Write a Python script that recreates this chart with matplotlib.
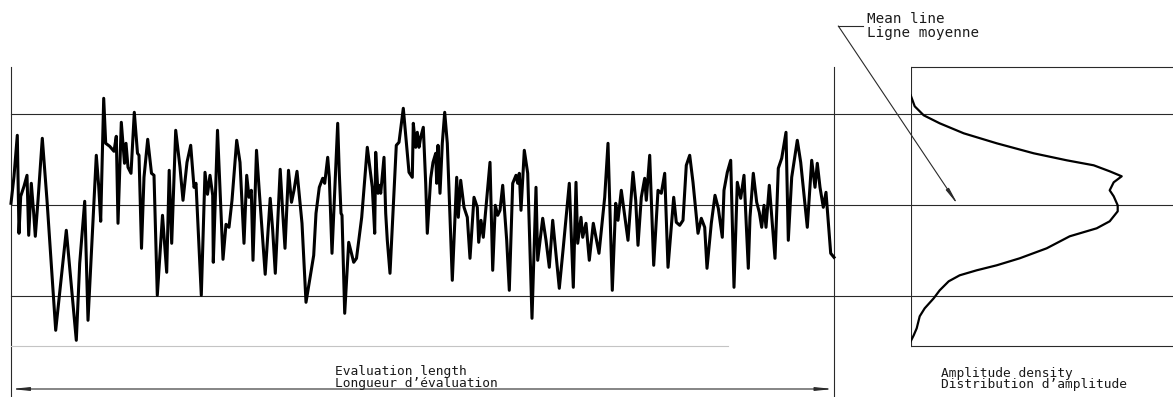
import matplotlib.pyplot as plt

# Surface profile: position along the evaluation length and height about the mean line
position = [
    0, 3, 6.3, 8, 9.7, 13, 16, 17.7, 20.3, 22.7, 24.3, 27, 31.3, 36, 44.7, 55.3,
    65.3, 68.7, 73.7, 77, 85.3, 87.7, 89.7, 92.7, 94.7, 98.7, 103, 105.3, 107, 110.3,
    113.5, 115, 117, 120, 123.3, 126.5, 128, 130.5, 133, 136.7, 140.5, 143, 146.3,
    151.5, 155.7, 158.2, 160.7, 164.7, 169, 172, 176, 179.7, 183, 185, 190.3, 194,
    196.5, 199, 201.7, 202.3, 206.5, 212, 215, 218, 221, 225.7, 229, 233, 235.7, 238,
    240.3, 242, 245.5, 248, 254.2, 259.2, 261.7, 264.3, 269.2, 271.7, 274, 277.5,
    280.5, 283, 286, 291, 295, 302.7, 305, 308.3, 311.7, 313.7, 316.7, 318.3, 321,
    326.7, 328.3, 330, 331, 333.7, 337.7, 342.7, 345.5, 350.7, 356.3, 361.3, 363.7,
    364.7, 367, 368.7, 369.7, 373, 374.7, 376.3, 379, 385.3, 388, 392.3, 398, 401.3,
    402.3, 404.7, 406.3, 408, 409.7, 412.3, 414.7, 416.3, 419.7, 422, 424.7, 425.7,
    427, 429, 431.3, 433.7, 436.3, 441.3, 445.7, 447.3, 449.7, 453, 456.3, 459, 463,
    466.3, 467.7, 470, 472.3, 479, 481.7, 484.3, 486.7, 489, 491.7, 495.7, 498.3,
    501.7, 505, 506.7, 508.3, 510, 513.3, 516.7, 521, 525, 526.7, 531.7, 535, 538.3,
    541.7, 544.3, 548.3, 552.3, 558.3, 562.3, 565, 566.7, 570, 571.7, 575, 578.3,
    582.3, 588, 593.7, 597, 601.3, 604.7, 607, 610.3, 617, 622, 624.7, 627, 630.3,
    633.7, 635.3, 638.7, 642.7, 647, 650.3, 653.7, 657, 662.7, 665.3, 668.7, 672,
    675.3, 678.7, 682, 687, 690.3, 693.7, 696, 700.3, 704, 707.3, 711.3, 713, 716.3,
    719.7, 723, 726.3, 729.7, 733, 737.3, 739, 742.3, 745.7, 748.3, 750.7, 753, 755,
    758.3, 764, 767.3, 770.7, 775, 777.3, 780.7, 786.3, 789.7, 796.3, 800.7, 804,
    806.3, 809, 812.3, 815, 819.7, 823,
]
height = [
    2, 29, 70, -28, 9, 19, 30, -30, 22, -8, -31, 5, 67, 5, -125, -25,
    -135, -58, 4, -115, 50, 19, -16, 107, 62, 59, 54, 69, -18, 83,
    42, 62, 38, 32, 93, 52, 50, -43, 28, 66, 32, 30, -90,
    -10, -67, 35, -38, 75, 38, 5, 43, 60, 18, 22, -90, 33,
    11, 30, 10, -57, 75, -54, -19, -22, 5, 65, 43, -38, 30, 8,
    15, -55, 55, 18, -69, 7, -25, -68, 36, -7, -43, 35,
    3, 15, 34, -18, -97, -50, -8, 18, 27, 22, 48, 28, -48,
    82, 32, -8, -10, -108, -37, -57, -53, -12, 58, 18, -28,
    53, 12, 20, 12, 48, -8, -35, -68, 60, 63, 97, 33, 28,
    82, 58, 73, 58, 68, 78, 22, -28, 27, 43, 52, 22,
    60, 12, 62, 93, 62, -75, 28, -12, 25, -2, -12, -53, 8,
    -2, -37, -15, -32, 43, -65, 0, -10, -5, 20, -35, -85,
    22, 30, 22, 32, -5, 55, 32, -113, 18, -55, -13, -35, -62,
    -15, -42, -83, -42, 22, -82, 23, -38, -12, -32, -18, -55,
    -18, -48, 8, 62, -85, 2, -15, 15, -35, 33, 5, -40, 8,
    27, 5, 50, -60, 15, 12, 32, -62, 8, -17, -20, -15,
    40, 50, 23, -28, -13, -22, -63, -18, 10, -3, -32, 15, 33,
    45, -82, 23, 7, 30, -63, -12, 32, 3, -7, -22, 0, -22,
    20, -53, 37, 47, 73, -35, 28, 65, 43, -22, 45, 18,
    42, 18, -2, 13, -48, -52,
]

# Amplitude density of the profile heights
density_height = [110, 99, 90, 82, 72, 62, 52, 45, 40, 34, 29, 23, 15, 9, 0, -6,
                  -16, -23, -31, -43, -53, -60, -65, -70, -76, -85, -93, -103,
                  -111, -123, -130, -136]
density_value = [0, 4, 13, 29, 53, 86, 123, 156, 183, 199, 211, 203, 199, 203, 207,
                 207, 199, 186, 159, 136, 109, 86, 66, 49, 38, 29, 23, 14, 9, 6, 3, 0]

band = 91            # upper and lower reference lines
eval_length = 822.5  # evaluation length
frame_top = 138.5
frame_bottom = -141

W, H = 1173, 397
fig = plt.figure(figsize=(W / 100, H / 100), dpi=100)
ax = fig.add_axes([0, 0, 1, 1])
x_left, y_top = 11, 205.3
ax.set_xlim(-x_left, W - x_left)
ax.set_ylim(y_top - H, y_top)
ax.axis('off')

thin = dict(color='#2a2a2a', lw=0.8)
right_end = W - x_left

# reference lines across the profile and the density panel
for level in (band, 0, -band):
    ax.plot([0, right_end], [level, level], **thin)
ax.plot([0, 0], [y_top - H, frame_top], **thin)
ax.plot([eval_length, eval_length], [y_top - H, frame_top], **thin)
ax.plot([0, 717], [frame_bottom, frame_bottom], color='#c4c4c4', lw=0.8)

# the profile
ax.plot(position, height, color='black', lw=2.2, solid_joinstyle='round')

# evaluation length dimension line
ax.annotate('', xy=(0, -183.7), xytext=(eval_length, -183.7),
            arrowprops=dict(arrowstyle='<|-|>,head_length=1.0,head_width=0.1',
                            color='#2a2a2a', lw=0.8, shrinkA=0, shrinkB=0))

font = dict(family='DejaVu Sans Mono', size=9.3, color='#1a1a1a')
ax.text(324, -169.7, 'Evaluation length', va='baseline', **font)
ax.text(324, -181.4, 'Longueur d\u2019évaluation', va='baseline', **font)

# mean line leader
ax.plot([827.3, 852.3], [179.3, 179.3], **thin)
ax.annotate('', xy=(947.3, 0), xytext=(827.3, 179.3),
            arrowprops=dict(arrowstyle='-|>,head_length=1.0,head_width=0.1',
                            color='#2a2a2a', lw=0.8, shrinkA=0, shrinkB=0))
big = dict(font, size=10.3)
ax.text(855.7, 182.6, 'Mean line', va='baseline', **big)
ax.text(855.7, 168.3, 'Ligne moyenne', va='baseline', **big)

# amplitude density panel
box_left = 910.7
ax2 = fig.add_axes([box_left / W, 0, 1 - box_left / W, 1], sharey=ax)
ax2.set_xlim(0, W - box_left)
ax2.axis('off')
ax2.plot([0, 0], [frame_bottom, frame_top], **thin)
ax2.plot([0, W - box_left], [frame_top, frame_top], **thin)
ax2.plot([0, W - box_left], [frame_bottom, frame_bottom], **thin)
ax2.plot(density_value, density_height, color='black', lw=1.6)

ax.text(929.7, -171.4, 'Amplitude density', va='baseline', **font)
ax.text(929.7, -182.7, 'Distribution d\u2019amplitude', va='baseline', **font)

fig.savefig('out.png', dpi=100)
